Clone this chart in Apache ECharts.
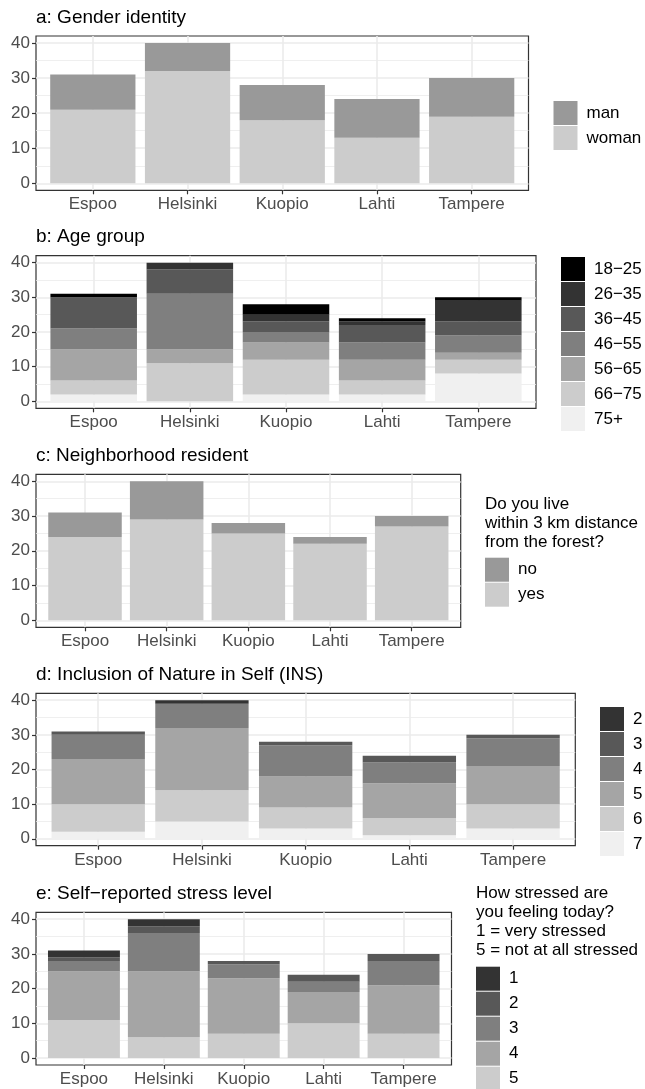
<!DOCTYPE html>
<html><head><meta charset="utf-8">
<script src="https://cdn.jsdelivr.net/npm/echarts@6/dist/echarts.min.js"></script>
<style>html,body{margin:0;padding:0;background:#fff}#c{width:645px;height:1089px}</style>
</head><body><div id="c"></div>
<script>
// ---------- data ----------
const cities = ['Espoo', 'Helsinki', 'Kuopio', 'Lahti', 'Tampere'];
const yTicks = [0, 10, 20, 30, 40];
const yMinor = [5, 15, 25, 35];

// a: Gender identity (bottom -> top)
const genderWoman = [21, 32, 18, 13, 19];
const genderMan   = [10, 8, 10, 11, 11];

// b: Age group (bottom -> top)
const age75plus = [2, 0, 2, 2, 8];
const age66_75  = [4, 11, 10, 4, 4];
const age56_65  = [9, 4, 5, 6, 2];
const age46_55  = [6, 16, 3, 5, 5];
const age36_45  = [9, 7, 3, 5, 4];
const age26_35  = [0, 2, 2, 1, 6];
const age18_25  = [1, 0, 3, 1, 1];

// c: Neighborhood resident
const nbYes = [24, 29, 25, 22, 27];
const nbNo  = [7, 11, 3, 2, 3];

// d: Inclusion of Nature in Self (bottom -> top: 7..2)
const ins7 = [2, 5, 3, 1, 3];
const ins6 = [8, 9, 6, 5, 7];
const ins5 = [13, 18, 9, 10, 11];
const ins4 = [7, 7, 9, 6, 8];
const ins3 = [1, 0, 1, 2, 1];
const ins2 = [0, 1, 0, 0, 0];

// e: Self-reported stress level (bottom -> top: 5..1)
const st5 = [11, 6, 7, 10, 7];
const st4 = [14, 19, 16, 9, 14];
const st3 = [3, 11, 4, 3, 7];
const st2 = [1, 2, 1, 2, 2];
const st1 = [2, 2, 0, 0, 0];

// ---------- panel definitions ----------
const FONT = '"Liberation Sans", Arial, Helvetica, sans-serif';
const G = {k0:'#000000', k1:'#333333', k2:'#585858', k3:'#7f7f7f', k4:'#a5a5a5', k5:'#cccccc', k6:'#f0f0f0', m:'#999999'};

const panels = [
  {title:'a: Gender identity', box:[36,36,528.5,190.3], legend:[553.5,101],
   layers:[['woman',genderWoman,G.k5],['man',genderMan,G.m]],
   legendOrder:['man','woman']},
  {title:'b: Age group', box:[36,255.7,536,408.3], legend:[561,257],
   layers:[['75+',age75plus,G.k6],['66\u221275',age66_75,G.k5],['56\u221265',age56_65,G.k4],
           ['46\u221255',age46_55,G.k3],['36\u221245',age36_45,G.k2],['26\u221235',age26_35,G.k1],['18\u221225',age18_25,G.k0]],
   legendOrder:['18\u221225','26\u221235','36\u221245','46\u221255','56\u221265','66\u221275','75+']},
  {title:'c: Neighborhood resident', box:[36,474.3,460.7,627.3], legend:[485,557.7],
   legendTitle:'Do you live\nwithin 3 km distance\nfrom the forest?', legendTitlePos:[485,494.5],
   layers:[['yes',nbYes,G.k5],['no',nbNo,G.m]],
   legendOrder:['no','yes']},
  {title:'d: Inclusion of Nature in Self (INS)', box:[36,693.3,575.3,845.7], legend:[600,707],
   layers:[['7',ins7,G.k6],['6',ins6,G.k5],['5',ins5,G.k4],['4',ins4,G.k3],['3',ins3,G.k2],['2',ins2,G.k1]],
   legendOrder:['2','3','4','5','6','7']},
  {title:'e: Self\u2212reported stress level', box:[36,912.3,451.5,1065], legend:[476,966.7],
   legendTitle:'How stressed are\nyou feeling today?\n1 = very stressed\n5 = not at all stressed', legendTitlePos:[476,884],
   layers:[['5',st5,G.k5],['4',st4,G.k4],['3',st3,G.k3],['2',st2,G.k2],['1',st1,G.k1]],
   legendOrder:['1','2','3','4','5']}
];

const option = {animation:false, backgroundColor:'#ffffff', textStyle:{fontFamily:FONT},
  title:[], grid:[], xAxis:[], yAxis:[], series:[], legend:[]};

const n = cities.length;
const xPos = cities.map((c, i) => i);
panels.forEach((p, i) => {
  const [x0, y0, x1, y1] = p.box;
  const w = x1 - x0, h = y1 - y0;
  const step = w / (n + 0.2);       // ggplot discrete expansion 0.6 each side
  const fg = option.grid.length;
  option.grid.push({left:x0, top:y0, width:w, height:h, show:true, borderColor:'#333333', borderWidth:1.2, backgroundColor:'rgba(0,0,0,0)'});
  const dg = option.grid.length;
  option.grid.push({left:x0 + 0.1*step, top:y0, width:n*step, height:h, show:false});

  option.xAxis.push({type:'value', gridIndex:fg, min:-0.6, max:n - 0.4, position:'bottom',
    axisLine:{show:false, onZero:false},
    axisTick:{show:true, length:4, customValues:xPos, lineStyle:{color:'#333333', width:1.2}},
    axisLabel:{show:true, customValues:xPos, margin:6, fontSize:17, color:'#4d4d4d', fontFamily:FONT,
               formatter:v => cities[Math.round(v)]},
    splitLine:{show:true, lineStyle:{color:'#ebebeb', width:1.6}}});
  const dx = option.xAxis.length;
  option.xAxis.push({type:'category', gridIndex:dg, data:cities, show:false});

  option.yAxis.push({type:'value', gridIndex:fg, min:-2, max:42, position:'left',
    axisLine:{show:false, onZero:false},
    axisTick:{show:true, length:4, customValues:yTicks, lineStyle:{color:'#333333', width:1.2}},
    axisLabel:{show:true, customValues:yTicks, margin:6, fontSize:17, color:'#4d4d4d', fontFamily:FONT},
    splitLine:{show:true, lineStyle:{color:'#ebebeb', width:1.6}}});
  option.yAxis.push({type:'value', gridIndex:fg, min:-2, max:42, position:'left',
    axisLine:{show:false, onZero:false}, axisLabel:{show:false},
    axisTick:{show:false, customValues:yMinor},
    splitLine:{show:true, lineStyle:{color:'#ebebeb', width:0.8}}});
  const dy = option.yAxis.length;
  option.yAxis.push({type:'value', gridIndex:dg, min:-2, max:42, show:false, splitLine:{show:false}});

  p.layers.forEach(([name, vals, color]) => {
    option.series.push({type:'bar', name:'p'+i+'|'+name, xAxisIndex:dx, yAxisIndex:dy,
      stack:'s'+i, barWidth:'90%', data:vals, itemStyle:{color:color}, silent:true,
      emphasis:{disabled:true}});
  });

  option.title.push({text:p.title, left:x0, top:y0 - 28, padding:0,
    textStyle:{fontSize:19, fontWeight:'normal', color:'#000000', fontFamily:FONT, lineHeight:19}});
  if (p.legendTitle) {
    option.title.push({text:p.legendTitle, left:p.legendTitlePos[0], top:p.legendTitlePos[1], padding:0,
      textStyle:{fontSize:17, fontWeight:'normal', color:'#000000', fontFamily:FONT, lineHeight:19}});
  }
  option.legend.push({orient:'vertical', left:p.legend[0], top:p.legend[1], padding:0,
    width:200, height:260,
    itemWidth:24, itemHeight:24, itemGap:1, icon:'rect', selectedMode:false,
    data:p.legendOrder.map(s => 'p'+i+'|'+s),
    formatter:name => name.split('|')[1],
    textStyle:{fontSize:17, color:'#000000', fontFamily:FONT, padding:[0,0,0,4]}});
});

const chart = echarts.init(document.getElementById('c'), null, {renderer:'canvas'});
chart.setOption(option);
</script></body></html>
